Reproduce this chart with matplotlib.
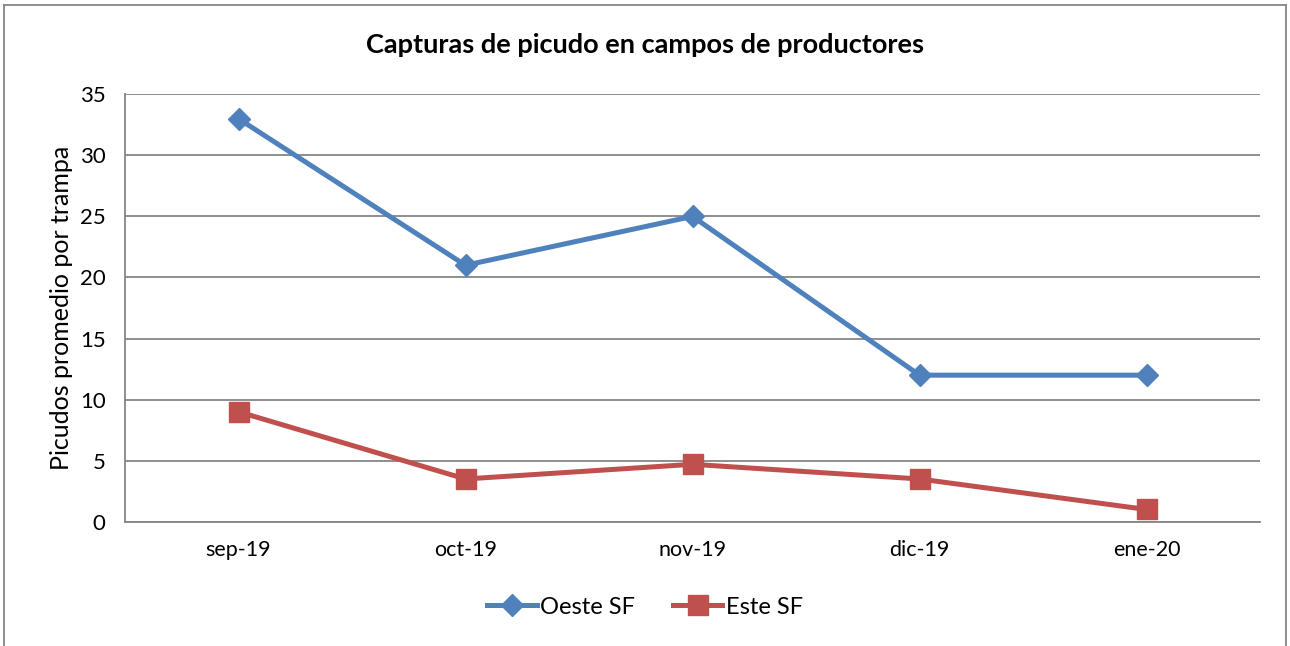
import matplotlib.pyplot as plt
from matplotlib.lines import Line2D

plt.rcParams['font.family'] = ['Lato', 'DejaVu Sans']

meses = ["sep-19", "oct-19", "nov-19", "dic-19", "ene-20"]
oeste_sf = [33, 21, 25, 12, 12]
este_sf = [9, 3.5, 4.7, 3.5, 1.0]

azul = "#4F81BD"
rojo = "#C0504D"

fig = plt.figure(figsize=(12.9, 6.46), dpi=100)
ax = fig.add_axes([125 / 1290, 1 - 521.7 / 646, 1135 / 1290, (521.7 - 94.3) / 646])

x = range(len(meses))
ax.plot(x, oeste_sf, color=azul, linewidth=3.6, marker="D", markersize=11, label="Oeste SF")
ax.plot(x, este_sf, color=rojo, linewidth=3.6, marker="s", markersize=14, label="Este SF")

ax.set_xlim(-0.5, len(meses) - 0.5)
ax.set_ylim(0, 35)
ax.set_yticks(range(0, 36, 5))
ax.set_xticks(list(x))
ax.set_xticklabels(meses)
ax.yaxis.grid(True, color="#868686", linewidth=1.3)
ax.set_axisbelow(True)

for s in ["top", "right"]:
    ax.spines[s].set_visible(False)
ax.spines["left"].set_color("#868686")
ax.spines["bottom"].set_color("#868686")
ax.spines["left"].set_linewidth(1.3)
ax.spines["bottom"].set_linewidth(1.3)
ax.tick_params(axis="y", length=0, pad=14, labelsize=16)
ax.tick_params(axis="x", length=0, pad=13, labelsize=15.5)

ax.set_ylabel("Picudos promedio por trampa", fontsize=18, labelpad=5)
fig.text(0.5, 1 - 45 / 646, "Capturas de picudo en campos de productores",
         ha="center", va="center", fontsize=19.5, fontweight="bold")

handles = [
    Line2D([], [], color=azul, linewidth=3.6, marker="D", markersize=11),
    Line2D([], [], color=rojo, linewidth=3.6, marker="s", markersize=14),
]
fig.legend(handles, ["Oeste SF", "Este SF"], loc="center", bbox_to_anchor=(0.5, 1 - 607 / 646),
           ncol=2, frameon=False, fontsize=17, handlelength=2.1, columnspacing=1.6, handletextpad=0.15)

# borde exterior del grafico
fig.add_artist(Line2D([4 / 1290, 4 / 1290], [0, 1 - 5 / 646], transform=fig.transFigure, color="#868686", linewidth=1.3))
fig.add_artist(Line2D([4 / 1290, 1286 / 1290], [1 - 5 / 646, 1 - 5 / 646], transform=fig.transFigure, color="#868686", linewidth=1.3))
fig.add_artist(Line2D([1286 / 1290, 1286 / 1290], [0, 1 - 5 / 646], transform=fig.transFigure, color="#868686", linewidth=1.3))

fig.savefig("out.png", dpi=100)
